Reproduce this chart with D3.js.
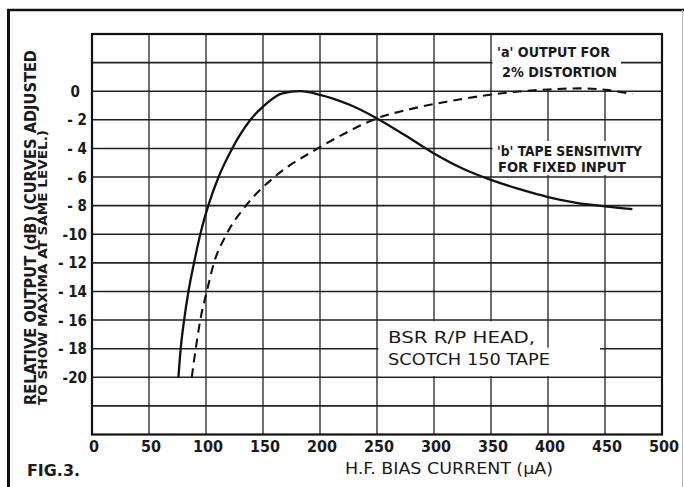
<!DOCTYPE html>
<html>
<head>
<meta charset="utf-8">
<script src="https://cdn.jsdelivr.net/npm/d3@7"></script>
<style>
  html, body { margin: 0; padding: 0; background: #fff; }
  svg { display: block; }
  text { fill: #1a1a1a; font-family: "DejaVu Sans Condensed", "DejaVu Sans", sans-serif; }
</style>
</head>
<body>
<svg id="chart" width="684" height="487"></svg>
<script>
// ---- data ----
const xTicks = [0, 50, 100, 150, 200, 250, 300, 350, 400, 450, 500];
const yTicks = [0, -2, -4, -6, -8, -10, -12, -14, -16, -18, -20];
const yTickLabels = ["0", "- 2", "- 4", "- 6", "- 8", "-10", "- 12", "- 14", "- 16", "- 18", "-20"];
const yGrid = [2, 0, -2, -4, -6, -8, -10, -12, -14, -16, -18, -20, -22];
const xGrid = [50, 100, 150, 200, 250, 300, 350, 400, 450];

// curve 'b' (solid): tape sensitivity for fixed input
const sensBias = [75.8, 77.8, 80.8, 84.6, 89.5, 95, 102, 111, 123, 139, 151, 167, 182.5, 200, 226, 250, 275, 300, 325, 350, 375, 400, 425, 450, 474];
const sensDb   = [-20, -18, -16, -14, -12, -10, -8, -6, -4, -2, -1, -0.15, 0, -0.25, -0.95, -1.9, -3.1, -4.35, -5.4, -6.2, -6.85, -7.4, -7.8, -8.05, -8.25];

// curve 'a' (dashed): output for 2% distortion
const distBias = [87.5, 91, 95, 100.7, 107, 118, 135, 160, 198, 223, 248, 282, 310, 340, 370, 400, 428, 450, 474];
const distDb   = [-20, -18, -16, -14, -12, -10, -8, -6, -4, -2.9, -1.95, -1.2, -0.75, -0.35, -0.05, 0.12, 0.2, 0.1, -0.2];

// ---- layout ----
const svg = d3.select("#chart");
const x = d3.scaleLinear().domain([0, 500]).range([92, 662]);
const y = d3.scaleLinear().domain([4, -24]).range([34, 434.5]);

// outer frame
svg.append("line").attr("x1", 8.5).attr("x2", 8.5).attr("y1", 9).attr("y2", 487)
  .attr("stroke", "#111").attr("stroke-width", 3);
svg.append("line").attr("x1", 7).attr("x2", 684).attr("y1", 10).attr("y2", 10)
  .attr("stroke", "#111").attr("stroke-width", 2.5);
svg.append("line").attr("x1", 682.5).attr("x2", 682.5).attr("y1", 10).attr("y2", 487)
  .attr("stroke", "#bbb").attr("stroke-width", 1);

const g = svg.append("g");

// grid lines
g.selectAll(".hgrid").data(yGrid).join("line")
  .attr("x1", x(0)).attr("x2", x(500))
  .attr("y1", d => y(d)).attr("y2", d => y(d))
  .attr("stroke", "#222").attr("stroke-width", 1.6);
g.selectAll(".vgrid").data(xGrid).join("line")
  .attr("x1", d => x(d)).attr("x2", d => x(d))
  .attr("y1", y(4)).attr("y2", y(-24))
  .attr("stroke", "#222").attr("stroke-width", 1.3);

// white label boxes that interrupt the grid
const boxes = [
  [x(350) + 1.5, y(4) + 1, 621, y(0) - 1.5],
  [x(350) + 1.5, 141, x(500) - 1, 175],
  [x(250) + 1.5, y(-16) + 1.2, x(400) - 1.2, y(-18)],
  [x(250) + 1.5, y(-18) - 1, 600, y(-20) - 1.2]
];
g.selectAll(".box").data(boxes).join("rect")
  .attr("x", d => d[0]).attr("y", d => d[1])
  .attr("width", d => d[2] - d[0]).attr("height", d => d[3] - d[1])
  .attr("fill", "#fff");

// plot frame
g.append("rect").attr("x", x(0)).attr("y", y(4))
  .attr("width", x(500) - x(0)).attr("height", y(-24) - y(4))
  .attr("fill", "none").attr("stroke", "#111").attr("stroke-width", 2.2);

// curves
const line = d3.line().x(d => x(d[0])).y(d => y(d[1])).curve(d3.curveMonotoneX);
g.append("path").datum(d3.zip(sensBias, sensDb)).attr("d", line)
  .attr("fill", "none").attr("stroke", "#111").attr("stroke-width", 2.3);
g.append("path").datum(d3.zip(distBias, distDb)).attr("d", line)
  .attr("fill", "none").attr("stroke", "#111").attr("stroke-width", 2.1)
  .attr("stroke-dasharray", "9,6");

// x tick labels
g.selectAll(".xt").data(xTicks).join("text")
  .attr("x", d => x(d) + 2).attr("y", 452)
  .attr("text-anchor", "middle").attr("font-size", 16).attr("font-weight", "bold")
  .text(d => d);

// y tick labels
g.selectAll(".yt").data(yTicks).join("text")
  .attr("x", d => d === 0 ? 80 : 87).attr("y", d => y(d) + 5.5)
  .attr("text-anchor", "end").attr("font-size", 15).attr("font-weight", "bold")
  .text((d, i) => yTickLabels[i]);

// y axis title (two lines)
svg.append("text").attr("transform", "translate(36,405) rotate(-90)")
  .attr("font-size", 16).attr("font-weight", "bold")
  .attr("textLength", 355).attr("lengthAdjust", "spacingAndGlyphs")
  .text("RELATIVE OUTPUT (dB) (CURVES ADJUSTED");
svg.append("text").attr("transform", "translate(47,405) rotate(-90)")
  .attr("font-size", 12.5).attr("font-weight", "bold")
  .attr("textLength", 275).attr("lengthAdjust", "spacingAndGlyphs")
  .text("TO SHOW MAXIMA AT SAME LEVEL.)");

// x axis title
svg.append("text").attr("x", 345).attr("y", 474)
  .attr("font-size", 16)
  .attr("textLength", 208).attr("lengthAdjust", "spacingAndGlyphs")
  .text("H.F. BIAS CURRENT (µA)");

// figure label
svg.append("text").attr("x", 27).attr("y", 476)
  .attr("font-size", 15).attr("font-weight", "bold")
  .attr("textLength", 53).attr("lengthAdjust", "spacingAndGlyphs")
  .text("FIG.3.");

// annotations
const notes = [
  {t: "'a' OUTPUT FOR", x: 497, y: 57, w: 113, fs: 14, fw: "bold"},
  {t: "2% DISTORTION", x: 502, y: 77, w: 115, fs: 14, fw: "bold"},
  {t: "'b' TAPE SENSITIVITY", x: 497, y: 156, w: 145, fs: 14, fw: "bold"},
  {t: "FOR FIXED INPUT", x: 498, y: 172, w: 128, fs: 14, fw: "bold"},
  {t: "BSR  R/P HEAD,", x: 388, y: 343, w: 147, fs: 15, fw: "normal"},
  {t: "SCOTCH 150 TAPE", x: 388, y: 365, w: 162, fs: 15, fw: "normal"}
];
svg.selectAll(".note").data(notes).join("text")
  .attr("x", d => d.x).attr("y", d => d.y)
  .attr("font-size", d => d.fs).attr("font-weight", d => d.fw)
  .attr("font-family", d => d.fw === "normal" ? "'DejaVu Sans', sans-serif" : null)
  .attr("textLength", d => d.w).attr("lengthAdjust", "spacingAndGlyphs")
  .text(d => d.t);
</script>
</body>
</html>
